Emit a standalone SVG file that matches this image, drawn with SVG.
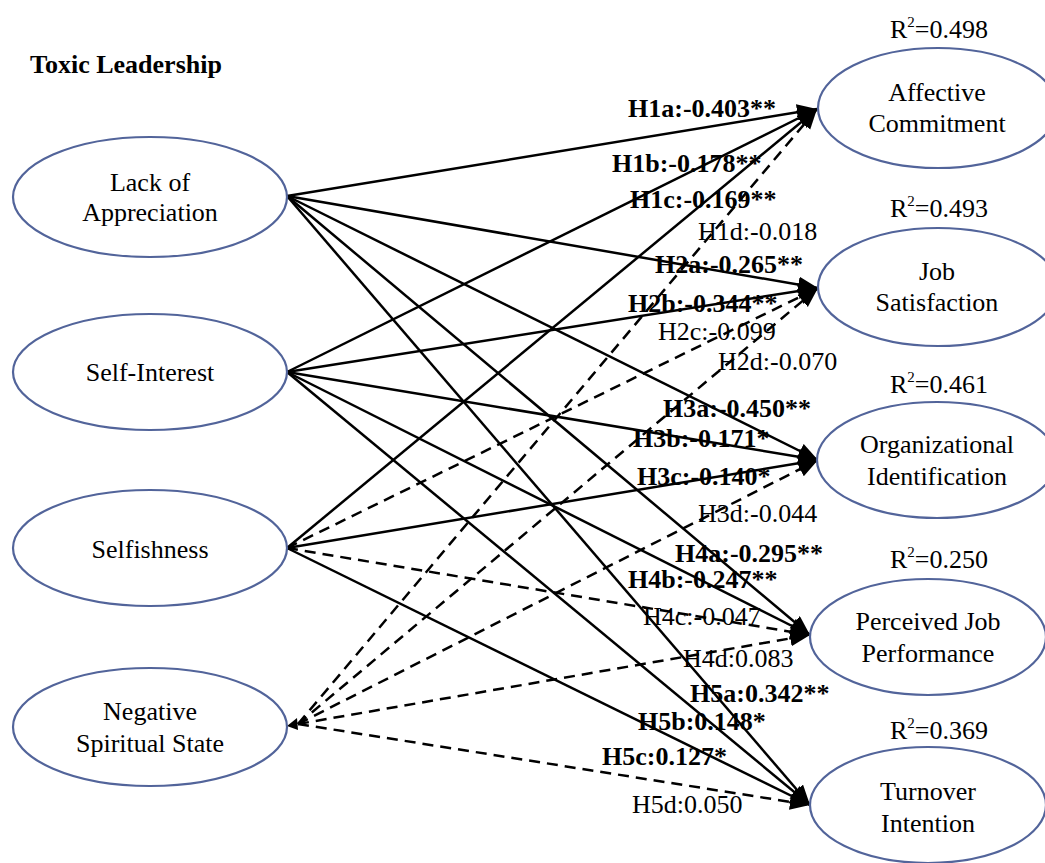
<svg xmlns="http://www.w3.org/2000/svg" width="1045" height="863" viewBox="0 0 1045 863" font-family="'Liberation Serif','Times New Roman',serif">
<style>
.node{fill:#fff;stroke:#52649a;stroke-width:2.2}
.nt{font-family:"Liberation Serif","Times New Roman",serif;font-size:26px;fill:#000;text-anchor:middle}
.lb{font-family:"Liberation Serif","Times New Roman",serif;font-size:26px;fill:#000}
.b{font-weight:bold}
.s{fill:none;stroke:#000;stroke-width:2.5}
.d{fill:none;stroke:#000;stroke-width:2.5;stroke-dasharray:11 7}
</style>
<defs>
<marker id="ah" markerUnits="userSpaceOnUse" markerWidth="21" markerHeight="17" refX="20" refY="8" orient="auto">
<path d="M0,0 L20,8 L0,16 z" fill="#000"/>
</marker>
</defs>
<rect width="1045" height="863" fill="#fff"/>
<text class="lb b" x="30" y="73">Toxic Leadership</text>
<g id="connectors">
<line class="s" x1="287" y1="196" x2="817" y2="109" marker-end="url(#ah)"/>
<line class="s" x1="287" y1="196" x2="818" y2="288" marker-end="url(#ah)"/>
<line class="s" x1="287" y1="196" x2="818" y2="460" marker-end="url(#ah)"/>
<line class="s" x1="287" y1="196" x2="810" y2="635" marker-end="url(#ah)"/>
<line class="s" x1="287" y1="196" x2="810" y2="805" marker-end="url(#ah)"/>
<line class="s" x1="287" y1="372" x2="817" y2="109" marker-end="url(#ah)"/>
<line class="s" x1="287" y1="372" x2="818" y2="288" marker-end="url(#ah)"/>
<line class="s" x1="287" y1="372" x2="818" y2="460" marker-end="url(#ah)"/>
<line class="s" x1="287" y1="372" x2="810" y2="635" marker-end="url(#ah)"/>
<line class="s" x1="287" y1="372" x2="810" y2="805" marker-end="url(#ah)"/>
<line class="s" x1="287" y1="548" x2="817" y2="109" marker-end="url(#ah)"/>
<line class="d" x1="287" y1="548" x2="818" y2="288" marker-end="url(#ah)"/>
<line class="s" x1="287" y1="548" x2="818" y2="460" marker-end="url(#ah)"/>
<line class="d" x1="287" y1="548" x2="810" y2="635" marker-end="url(#ah)"/>
<line class="s" x1="287" y1="548" x2="810" y2="805" marker-end="url(#ah)"/>
<line class="d" x1="298" y1="724" x2="817" y2="109" marker-end="url(#ah)"/>
<line class="d" x1="298" y1="724" x2="818" y2="288" marker-end="url(#ah)"/>
<line class="d" x1="298" y1="724" x2="818" y2="460" marker-end="url(#ah)"/>
<line class="d" x1="298" y1="724" x2="810" y2="635" marker-end="url(#ah)"/>
<line class="d" x1="298" y1="724" x2="810" y2="805" marker-end="url(#ah)"/>
<path d="M287,726 L297,718 L298,730 z" fill="#000"/>
</g>
<g id="lack-of-appreciation">
<ellipse class="node" cx="150" cy="197" rx="137" ry="60"/>
<text class="nt" x="150" y="191">Lack of</text>
<text class="nt" x="150" y="221">Appreciation</text>
</g>
<g id="self-interest">
<ellipse class="node" cx="150" cy="372" rx="137" ry="58"/>
<text class="nt" x="150" y="381">Self-Interest</text>
</g>
<g id="selfishness">
<ellipse class="node" cx="150" cy="548" rx="137" ry="58"/>
<text class="nt" x="150" y="558">Selfishness</text>
</g>
<g id="negative-spiritual-state">
<ellipse class="node" cx="150" cy="727" rx="137" ry="59"/>
<text class="nt" x="150" y="720">Negative</text>
<text class="nt" x="150" y="752">Spiritual State</text>
</g>
<g id="affective-commitment">
<ellipse class="node" cx="938" cy="108" rx="120" ry="60"/>
<text class="nt" x="937" y="101">Affective</text>
<text class="nt" x="937" y="132">Commitment</text>
</g>
<g id="job-satisfaction">
<ellipse class="node" cx="938" cy="287" rx="120" ry="59"/>
<text class="nt" x="937" y="280">Job</text>
<text class="nt" x="937" y="311">Satisfaction</text>
</g>
<g id="organizational-identification">
<ellipse class="node" cx="937" cy="460" rx="120" ry="58"/>
<text class="nt" x="937" y="453">Organizational</text>
<text class="nt" x="937" y="485">Identification</text>
</g>
<g id="perceived-job-performance">
<ellipse class="node" cx="928" cy="637" rx="118" ry="58"/>
<text class="nt" x="928" y="630">Perceived Job</text>
<text class="nt" x="928" y="662">Performance</text>
</g>
<g id="turnover-intention">
<ellipse class="node" cx="928" cy="805" rx="118" ry="58"/>
<text class="nt" x="928" y="800">Turnover</text>
<text class="nt" x="928" y="832">Intention</text>
</g>
<g id="r2">
<text class="lb" x="890" y="38">R<tspan font-size="15" dy="-11">2</tspan><tspan dy="11">=0.498</tspan></text>
<text class="lb" x="890" y="217">R<tspan font-size="15" dy="-11">2</tspan><tspan dy="11">=0.493</tspan></text>
<text class="lb" x="890" y="393">R<tspan font-size="15" dy="-11">2</tspan><tspan dy="11">=0.461</tspan></text>
<text class="lb" x="890" y="568">R<tspan font-size="15" dy="-11">2</tspan><tspan dy="11">=0.250</tspan></text>
<text class="lb" x="890" y="739">R<tspan font-size="15" dy="-11">2</tspan><tspan dy="11">=0.369</tspan></text>
</g>
<g id="labels">
<text class="lb b" x="628" y="117">H1a:-0.403**</text>
<text class="lb b" x="612" y="172">H1b:-0.178**</text>
<text class="lb b" x="630" y="208">H1c:-0.169**</text>
<text class="lb" x="698" y="240">H1d:-0.018</text>
<text class="lb b" x="655" y="273">H2a:-0.265**</text>
<text class="lb b" x="628" y="312">H2b:-0.344**</text>
<text class="lb" x="658" y="340">H2c:-0.099</text>
<text class="lb" x="718" y="370">H2d:-0.070</text>
<text class="lb b" x="663" y="417">H3a:-0.450**</text>
<text class="lb b" x="633" y="447">H3b:-0.171*</text>
<text class="lb b" x="637" y="485">H3c:-0.140*</text>
<text class="lb" x="698" y="522">H3d:-0.044</text>
<text class="lb b" x="675" y="562">H4a:-0.295**</text>
<text class="lb b" x="628" y="588">H4b:-0.247**</text>
<text class="lb" x="643" y="625">H4c:-0.047</text>
<text class="lb" x="683" y="667">H4d:0.083</text>
<text class="lb b" x="690" y="702">H5a:0.342**</text>
<text class="lb b" x="638" y="730">H5b:0.148*</text>
<text class="lb b" x="602" y="765">H5c:0.127*</text>
<text class="lb" x="632" y="813">H5d:0.050</text>
</g>
</svg>
